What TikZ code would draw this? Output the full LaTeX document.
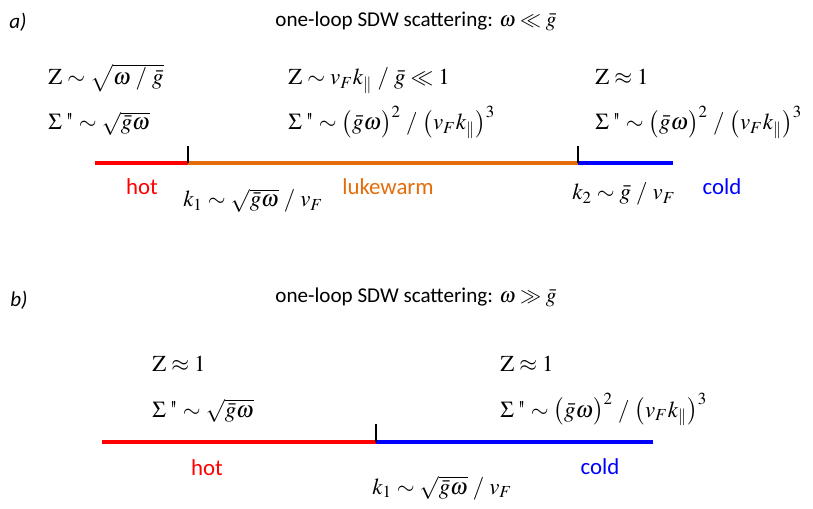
\documentclass[tikz,border=0pt]{standalone}
\usepackage{amsmath}
\usepackage{mathptmx}
\usepackage[no-math]{fontspec}
\setsansfont{Carlito}
\usetikzlibrary{positioning,calc}
\definecolor{hotred}{HTML}{FF0000}
\definecolor{lukeorange}{HTML}{E46C0A}
\definecolor{coldblue}{HTML}{0000FF}
\newcommand{\sdq}{\text{\,\textquotedbl}}
\newcommand{\ovr}{\;/\;}

\begin{document}
\begin{tikzpicture}[
  lab/.style={font=\sffamily\fontsize{13}{15}\selectfont,inner sep=0pt},
  head/.style={font=\sffamily\fontsize{12}{14}\selectfont,inner sep=0pt},
  panel/.style={font=\sffamily\itshape\fontsize{12}{14}\selectfont,inner sep=0pt},
  eq/.style={font=\fontsize{13}{15}\selectfont,anchor=base west,inner sep=0pt},
  band/.style={line width=2pt},
  tick/.style={black,line width=0.8pt}]

\useasboundingbox (0,0) rectangle (16.26,10.16);

% ---- panel a ----
\node[panel] (pa) at (0.36,9.72) {a)};
\node[head] (ta) at (8.32,9.74) {one-loop SDW scattering: $\omega \ll \bar g$};

% regime formulas
\node[eq] (zhot)  at (0.96,8.46) {$\mathrm{Z} \sim \sqrt{\omega\ovr\bar g}$};
\node[eq] (shot)  at (0.96,7.56) {$\Sigma\sdq \sim \sqrt{\bar g\omega}$};
\node[eq] (zluke) at (5.76,8.46) {$\mathrm{Z} \sim v_F k_{\parallel}\ovr\bar g \ll 1$};
\node[eq] (sluke) at (5.76,7.56) {$\Sigma\sdq \sim \bigl(\bar g\omega\bigr)^2\ovr\bigl(v_F k_{\parallel}\bigr)^3$};
\node[eq] (zcold) at (11.90,8.46) {$\mathrm{Z} \approx 1$};
\node[eq] (scold) at (11.90,7.56) {$\Sigma\sdq \sim \bigl(\bar g\omega\bigr)^2\ovr\bigl(v_F k_{\parallel}\bigr)^3$};

% momentum axis
\coordinate (a0) at (1.90,6.90);
\coordinate (a1) at (3.76,6.90);
\coordinate (a2) at (11.56,6.90);
\coordinate (a3) at (13.46,6.90);
\draw[band,hotred] (a0) -- (a1);
\draw[band,lukeorange] (a1) -- (a2);
\draw[band,coldblue] (a2) -- (a3);
\draw[tick] (a1) -- ++(0,0.34);
\draw[tick] (a2) -- ++(0,0.34);

\node[lab,text=hotred] (hota) at (2.84,6.42) {hot};
\node[lab,text=lukeorange] (luke) at (7.76,6.42) {lukewarm};
\node[lab,text=coldblue] (colda) at (14.44,6.42) {cold};
\node[eq] (k1a) at (3.66,6.02) {$k_1 \sim \sqrt{\bar g\omega}\ovr v_F$};
\node[eq] (k2a) at (11.44,6.16) {$k_2 \sim \bar g\ovr v_F$};

% ---- panel b ----
\node[panel] (pb) at (0.38,4.16) {b)};
\node[head] (tb) at (8.32,4.22) {one-loop SDW scattering: $\omega \gg \bar g$};

\node[eq] (zhotb)  at (3.04,2.74) {$\mathrm{Z} \approx 1$};
\node[eq] (shotb)  at (3.04,1.82) {$\Sigma\sdq \sim \sqrt{\bar g\omega}$};
\node[eq] (zcoldb) at (10.00,2.74) {$\mathrm{Z} \approx 1$};
\node[eq] (scoldb) at (10.00,1.82) {$\Sigma\sdq \sim \bigl(\bar g\omega\bigr)^2\ovr\bigl(v_F k_{\parallel}\bigr)^3$};

\coordinate (b0) at (2.04,1.32);
\coordinate (b1) at (7.52,1.32);
\coordinate (b2) at (13.06,1.32);
\draw[band,hotred] (b0) -- (b1);
\draw[band,coldblue] (b1) -- (b2);
\draw[tick] (b1) -- ++(0,0.36);

\node[lab,text=hotred] (hotb) at (4.14,0.80) {hot};
\node[lab,text=coldblue] (coldb) at (12.00,0.82) {cold};
\node[eq] (k1b) at (7.44,0.28) {$k_1 \sim \sqrt{\bar g\omega}\ovr v_F$};

\end{tikzpicture}
\end{document}
